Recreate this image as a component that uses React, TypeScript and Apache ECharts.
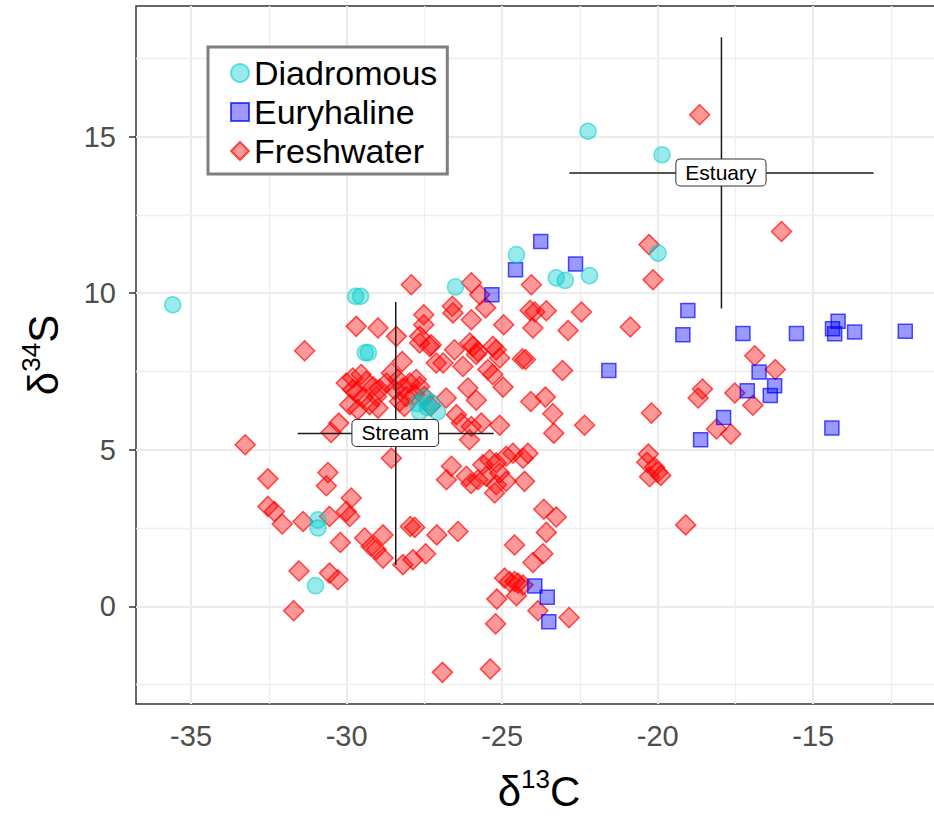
import React, { useEffect, useRef } from "react";
import * as echarts from "echarts";

const FONT = "'Liberation Sans', Arial, Helvetica, sans-serif";

// Diadromous (δ13C, δ34S)
const diadromousC = [-35.59, -29.71, -29.55, -29.4, -29.3, -26.5, -24.54, -23.26, -22.97, -22.19, -22.24, -19.86, -19.99,
  -27.72, -27.5, -27.27, -27.08, -27.65, -27.4, -30.92, -30.92, -31.0];
const diadromousS = [9.63, 9.9, 9.9, 8.1, 8.1, 10.2, 11.23, 10.49, 10.41, 10.56, 15.17, 14.42, 11.28,
  6.47, 6.66, 6.5, 6.21, 6.21, 6.35, 2.76, 2.5, 0.66];

// Euryhaline
const euryhalineC = [-25.33, -21.57, -23.76, -24.57, -22.64, -19.03, -19.19, -17.26, -15.54, -14.38, -14.2, -14.31, -13.67, -12.04,
  -16.74, -16.24, -16.38, -17.12, -17.88, -18.62, -14.4, -23.95, -23.55, -23.5];
const euryhalineS = [9.95, 7.53, 11.65, 10.75, 10.93, 9.45, 8.67, 8.71, 8.71, 8.86, 9.1, 8.7, 8.76, 8.78,
  7.48, 7.04, 6.73, 6.88, 6.03, 5.32, 5.69, 0.65, 0.29, -0.49];

// Freshwater
const freshwaterC = [
  -18.65, -16.02, -20.28, -20.15, -16.88, -16.22, -18.56, -18.7, -17.52, -16.94, -18.11, -17.65, -20.2, -20.3, -20.35, -20.1, -20.0, -19.9, -20.26, -19.1, -20.88,
  -27.92, -25.99, -25.72, -24.06, -27.52, -27.52, -27.65, -27.28, -28.4, -26.6, -26.58, -25.99, -25.53, -24.95, -24.1, -23.95, -23.58, -22.45, -24.01, -22.88,
  -26.53, -26.04, -25.94, -25.78, -25.3, -25.19, -25.08, -26.9, -26.26, -25.83, -25.46, -25.3, -24.35, -24.25, -23.06, -24.97, -26.1, -25.83, -26.8, -24.08,
  -23.61, -23.37, -23.34, -22.35, -26.47, -26.31, -25.99, -26.05, -25.67, -25.08,
  -25.62, -25.4, -25.19, -24.87, -24.65, -24.33, -24.17, -25.08, -25.51, -25.78, -26.15, -26.79, -26.63, -26.0, -25.24, -25.19, -24.87, -24.28,
  -23.66, -23.26, -23.58, -27.81, -27.95, -27.1, -26.42, -27.46, -27.87, -28.19, -24.6, -23.69, -24.01,
  -24.92, -24.76, -24.6, -24.49, -24.33, -25.17, -24.54, -23.85, -22.85, -25.21, -26.92, -25.38,
  -31.35, -29.69, -28.99, -28.21, -27.65, -27.33, -27.12,
  -30.01, -29.8, -29.53, -29.37, -29.15, -28.94, -29.69, -29.48, -29.9, -29.26, -28.99, -29.64, -29.8, -29.04,
  -28.72, -28.56, -28.35, -28.46, -28.19, -27.97, -27.76, -28.08, -28.3, -27.81, -27.65, -28.14, -27.5, -27.3,
  -30.25, -30.5, -33.26, -28.56, -32.53, -30.6, -30.65, -32.53, -32.32, -32.07, -31.4, -30.55, -29.85, -30.01, -29.9,
  -30.2, -29.42, -28.83, -29.05, -28.83, -29.21, -31.53, -30.55, -30.28, -31.7,
];
const freshwaterS = [
  15.7, 11.97, 11.55, 10.43, 8.0, 7.56, 6.94, 6.65, 6.81, 6.42, 5.66, 5.5, 6.17, 4.86, 4.6, 4.44, 4.28, 4.18, 4.14, 2.6, 8.92,
  10.27, 10.33, 9.95, 10.27, 9.31, 8.99, 8.62, 8.35, 8.62, 9.58, 9.37, 9.15, 9.53, 8.99, 9.45, 9.4, 9.44, 9.4, 8.89, 8.81,
  8.19, 8.41, 8.3, 8.14, 8.3, 8.19, 7.93, 7.77, 7.66, 8.04, 7.56, 7.4, 7.9, 7.88, 7.53, 7.0, 6.97, 6.58, 6.65, 6.54,
  6.68, 6.15, 5.53, 5.78, 6.12, 5.85, 5.74, 5.32, 5.85, 5.78,
  4.52, 4.68, 4.58, 4.79, 4.89, 4.73, 4.89, 4.26, 4.15, 4.04, 4.15, 4.04, 4.47, 3.92, 3.62, 3.88, 3.99, 3.99,
  3.1, 2.85, 2.36, 2.52, 2.55, 2.28, 2.39, 1.68, 1.49, 1.33, 1.96, 1.68, 1.4,
  0.9, 0.79, 0.79, 0.74, 0.68, 0.23, 0.34, -0.14, -0.36, -0.56, -2.11, -2.0,
  8.16, 8.94, 8.89, 7.82, 8.41, 8.3, 7.77,
  7.13, 7.29, 7.4, 7.18, 7.02, 6.92, 6.81, 6.65, 6.44, 6.44, 6.33, 6.28, 6.92, 6.7,
  7.13, 7.45, 7.24, 6.92, 6.97, 7.13, 7.24, 6.7, 6.54, 6.76, 7.02, 6.38, 6.7, 6.4,
  5.85, 5.55, 5.16, 4.73, 4.07, 4.27, 3.85, 3.19, 3.03, 2.63, 2.71, 2.87, 3.46, 3.03, 2.87,
  2.04, 2.18, 2.28, 1.81, 1.54, 1.91, 1.13, 1.06, 0.85, -0.14,
];

// Habitat crosshairs (mean ± sd)
const habitatNames = ["Stream", "Estuary"];
const habitatMeanC = [-28.42, -17.95];
const habitatMeanS = [5.52, 13.84];
const habitatSdC = [3.15, 4.89];
const habitatSdS = [4.2, 4.33];

// Axes
const xRange = [-36.77, -10.86];
const yRange = [-3.12, 19.17];
const xTicks = [-35, -30, -25, -20, -15];
const yTicks = [0, 5, 10, 15];
const xMinor = [-32.5, -27.5, -22.5, -17.5, -12.5];
const yMinor = [-2.5, 2.5, 7.5, 12.5, 17.5];

const zip = (a: number[], b: number[]) => a.map((v, i) => [v, b[i]]);

export default function App() {
  const ref = useRef<HTMLDivElement>(null);
  useEffect(() => {
    if (!ref.current) return;
    const chart = echarts.init(ref.current, null, { renderer: "svg" });

    const gridLines = [
      ...xTicks.map((v) => ({ xAxis: v, lineStyle: { color: "#EBEBEB", width: 2.2, type: "solid" } })),
      ...yTicks.map((v) => ({ yAxis: v, lineStyle: { color: "#EBEBEB", width: 2.2, type: "solid" } })),
      ...xMinor.map((v) => ({ xAxis: v, lineStyle: { color: "#EFEFEF", width: 1.3, type: "solid" } })),
      ...yMinor.map((v) => ({ yAxis: v, lineStyle: { color: "#EFEFEF", width: 1.3, type: "solid" } })),
    ];

    const segSeries: any[] = [];
    habitatNames.forEach((n, i) => {
      const c = habitatMeanC[i], s = habitatMeanS[i];
      const segs = [
        [[c - habitatSdC[i], s], [c + habitatSdC[i], s]],
        [[c, s - habitatSdS[i]], [c, s + habitatSdS[i]]],
      ];
      segs.forEach((d, k) =>
        segSeries.push({
          type: "line",
          name: n + "-seg" + k,
          data: d,
          symbol: "none",
          silent: true,
          z: 5,
          lineStyle: { color: "#1a1a1a", width: 1.5 },
        })
      );
    });

    const titleRich = {
      d: { fontSize: 42, fontFamily: FONT, color: "#000", verticalAlign: "bottom", lineHeight: 46 },
      s: { fontSize: 26, fontFamily: FONT, color: "#000", verticalAlign: "top", lineHeight: 26 },
    };

    const option: any = {
      animation: false,
      backgroundColor: "#ffffff",
      textStyle: { fontFamily: FONT },
      grid: {
        left: 136,
        top: 6,
        right: 2,
        bottom: 115,
        show: true,
        borderColor: "#333333",
        borderWidth: 1.5,
        backgroundColor: "transparent",
      },
      legend: {
        data: ["Diadromous", "Euryhaline", "Freshwater"],
        orient: "vertical",
        left: 208,
        top: 47,
        itemWidth: 18,
        itemHeight: 18,
        itemGap: 5,
        padding: [9, 10, 6, 22],
        borderColor: "#7f7f7f",
        borderWidth: 3,
        backgroundColor: "#ffffff",
        textStyle: { fontSize: 34, lineHeight: 34, color: "#000000", fontFamily: FONT },
      },
      xAxis: {
        type: "value",
        min: xRange[0],
        max: xRange[1],
        name: "{d|δ}{s|13}{d|C}",
        nameLocation: "middle",
        nameGap: 62,
        nameTextStyle: { color: "#000", rich: titleRich },
        axisLine: { show: false },
        splitLine: { show: false },
        axisTick: { show: true, length: 7, customValues: xTicks, lineStyle: { color: "#333", width: 1.5 } },
        axisLabel: { customValues: xTicks, fontSize: 29, color: "#4D4D4D", margin: 17, fontFamily: FONT },
      },
      yAxis: {
        type: "value",
        min: yRange[0],
        max: yRange[1],
        name: "{d|δ}{s|34}{d|S}",
        nameLocation: "middle",
        nameGap: 72,
        nameRotate: 90,
        nameTextStyle: { color: "#000", rich: titleRich },
        axisLine: { show: false },
        splitLine: { show: false },
        axisTick: { show: true, length: 7, customValues: yTicks, lineStyle: { color: "#333", width: 1.5 } },
        axisLabel: { customValues: yTicks, fontSize: 29, color: "#4D4D4D", margin: 20, fontFamily: FONT },
      },
      series: [
        {
          type: "scatter",
          name: "Freshwater",
          symbol: "diamond",
          symbolSize: 20,
          symbolKeepAspect: true,
          z: 2,
          data: zip(freshwaterC, freshwaterS),
          itemStyle: { color: "rgba(255,0,0,0.5)", borderColor: "rgba(255,0,0,0.85)", borderWidth: 1.5 },
          markLine: {
            silent: true,
            symbol: "none",
            z: 1,
            label: { show: false },
            animation: false,
            data: gridLines,
          },
        },
        {
          type: "scatter",
          name: "Euryhaline",
          symbol: "rect",
          symbolSize: 14,
          symbolKeepAspect: true,
          z: 3,
          data: zip(euryhalineC, euryhalineS),
          itemStyle: { color: "rgba(0,0,255,0.5)", borderColor: "rgba(0,0,255,0.85)", borderWidth: 1.5 },
        },
        {
          type: "scatter",
          name: "Diadromous",
          symbol: "circle",
          symbolSize: 16,
          symbolKeepAspect: true,
          z: 4,
          data: zip(diadromousC, diadromousS),
          itemStyle: { color: "rgba(0,204,204,0.5)", borderColor: "rgba(0,204,204,0.7)", borderWidth: 1.5 },
        },
        ...segSeries,
        {
          type: "scatter",
          name: "habitat-labels",
          symbol: "circle",
          symbolSize: 1,
          silent: true,
          z: 10,
          itemStyle: { color: "#ffffff", opacity: 1 },
          data: habitatNames.map((n, i) => ({ name: n, value: [habitatMeanC[i], habitatMeanS[i]] })),
          label: {
            show: true,
            position: [0, 0],
            align: "center",
            verticalAlign: "middle",
            formatter: "{b}",
            fontSize: 21,
            color: "#000000",
            opacity: 1,
            textBorderWidth: 0,
            fontFamily: FONT,
            backgroundColor: "#ffffff",
            borderColor: "#333333",
            borderWidth: 1,
            borderRadius: 4,
            padding: [3, 9, 2, 9],
          },
        },
      ],
    };
    chart.setOption(option);
    return () => chart.dispose();
  }, []);
  return (
    <div
      ref={ref}
      style={{ position: "fixed", left: 0, top: 0, width: 944, height: 819, background: "#fff" }}
    />
  );
}
